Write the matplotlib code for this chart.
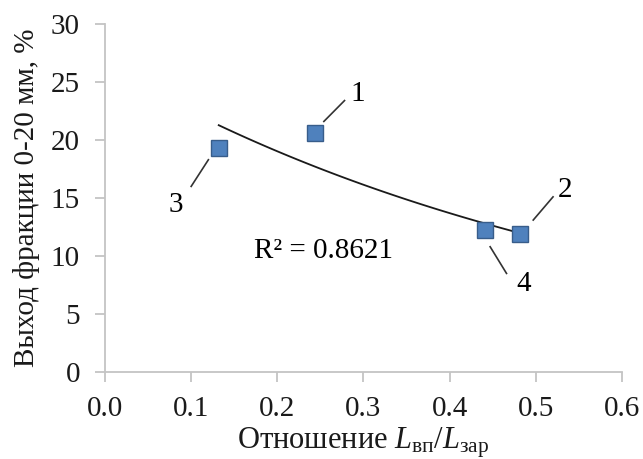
import matplotlib
matplotlib.use("Agg")
import matplotlib.pyplot as plt
import numpy as np

plt.rcParams["font.family"] = ["Liberation Serif", "DejaVu Serif"]
plt.rcParams["mathtext.fontset"] = "custom"
plt.rcParams["mathtext.rm"] = "Liberation Serif"
plt.rcParams["mathtext.it"] = "Liberation Serif:italic"

# data
ratio = np.array([0.244, 0.482, 0.132, 0.441])
yield_pct = np.array([20.6, 11.9, 19.3, 12.2])
point_labels = ["1", "2", "3", "4"]
label_pos = [(0.293, 24.0), (0.534, 15.7), (0.082, 14.4), (0.486, 7.6)]
line_start = [(0.254, 21.6), (0.497, 13.1), (0.100, 16.0), (0.447, 10.8)]
line_end = [(0.278, 23.4), (0.520, 15.1), (0.120, 18.3), (0.466, 8.5)]
r2_text = "R² = 0.8621"

# exponential trend, as Excel does it
b, ln_a = np.polyfit(ratio, np.log(yield_pct), 1)
xs = np.linspace(ratio.min(), ratio.max() + 0.006, 100)
ys = np.exp(ln_a) * np.exp(b * xs)

fig = plt.figure(figsize=(6.43, 4.59), dpi=100)
ax = fig.add_axes([0.1633, 0.1895, 0.804, 0.7582])

ax.plot(xs, ys, color="#1a1a1a", lw=1.3, zorder=2)
ax.plot(ratio, yield_pct, "s", ms=11, mfc="#4F81BD", mec="#385D8A", mew=1, zorder=3)

for lab, pos, s, e in zip(point_labels, label_pos, line_start, line_end):
    ax.plot([s[0], e[0]], [s[1], e[1]], color="#333333", lw=1.2)
    ax.text(pos[0], pos[1], lab, fontsize=21, ha="center", va="center")

ax.text(0.254, 10.4, r2_text, fontsize=21, ha="center", va="center")

ax.set_xlim(0, 0.6)
ax.set_ylim(0, 30)
ax.set_xticks(np.arange(0, 0.61, 0.1))
ax.set_xticklabels([f"{v:.1f}" for v in np.arange(0, 0.61, 0.1)])
ax.set_yticks(range(0, 31, 5))

for side in ["top", "right"]:
    ax.spines[side].set_visible(False)
for side in ["left", "bottom"]:
    ax.spines[side].set_color("#c4c4c4")
    ax.spines[side].set_linewidth(1.3)
ax.tick_params(axis="both", colors="#c4c4c4", labelcolor="#1a1a1a", labelsize=21,
               length=7, width=1.3, direction="out")
ax.tick_params(axis="y", pad=11)
ax.tick_params(axis="x", pad=10)

ax.set_xlabel("Отношение $L_{\\mathrm{вп}}/L_{\\mathrm{зар}}$", fontsize=22, labelpad=3,
              color="#1a1a1a")
ax.set_ylabel("Выход фракции 0-20 мм, %", fontsize=21, labelpad=8, color="#1a1a1a")

fig.savefig("out.png", dpi=100)
